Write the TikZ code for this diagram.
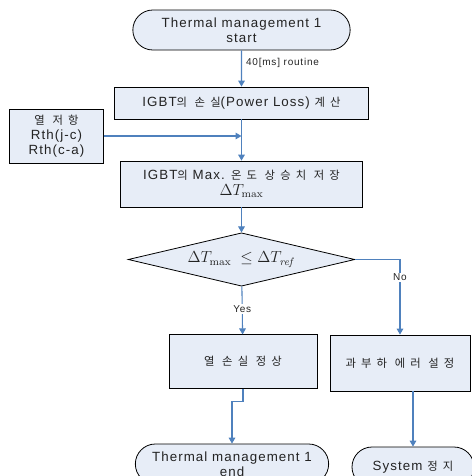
\documentclass[tikz,border=0pt]{standalone}
\usepackage[no-math]{fontspec}
\setmainfont{Liberation Sans}[LetterSpace=8]
\newfontfamily\kr{Noto Sans CJK KR}[Scale=0.85,LetterSpace=45]
\usetikzlibrary{arrows.meta,shapes.geometric,shapes.misc}
\definecolor{BoxFill}{RGB}{231,237,247}
\definecolor{LineBlue}{RGB}{79,129,189}
\definecolor{TextGray}{RGB}{35,35,35}

\begin{document}
\begin{tikzpicture}[x=0.75pt,y=-0.75pt,
    font=\fontsize{10}{11}\selectfont,
    box/.style={draw=black,fill=BoxFill,line width=0.6pt,text=TextGray,align=center,inner sep=0pt},
    term/.style={box,rounded rectangle},
    link/.style={LineBlue,line width=0.8pt,-{Triangle[width=5pt,length=4.5pt]}},
    tag/.style={font=\fontsize{7.5}{9}\selectfont,text=TextGray,fill=white,inner sep=1pt}]
    \useasboundingbox (0,0) rectangle (472,476);
    %%Start
    \node[term,minimum width=163pt,minimum height=30pt] (start) at (241.5,30) {Thermal management 1\\start};
    %%Boxes
    \node[box,minimum width=190pt,minimum height=24pt] (loss) at (241.5,103) {IGBT{\kr 의 손실}(Power Loss) {\kr 계산}};
    \node[box,minimum width=70pt,minimum height=40.5pt] (rth) at (56.5,136) {\kr 열 저항\\\normalfont Rth(j-c)\\\normalfont Rth(c-a)};
    \node[box,minimum width=182pt,minimum height=34.5pt] (maxt) at (241.5,184) {IGBT{\kr 의} Max. {\kr 온도 상승치 저장}\\[1pt]{\large$\Delta T_{\mathrm{max}}$}};
    %%Decision
    \node[box,diamond,aspect=4,minimum width=170pt,minimum height=40pt] (cmp) at (241.5,259.5) {\large$\Delta T_{\mathrm{max}}\;\le \Delta T_{\mathit{ref}}$};
    \node[box,minimum width=111pt,minimum height=40pt] (normal) at (243,361.5) {{\kr 열 손실 정상}};
    \node[box,minimum width=105pt,minimum height=42pt] (overload) at (400,363) {{\kr 과부하 에러 설정}};
    %%End
    \node[term,minimum width=145pt,minimum height=30pt] (finish) at (232,464) {Thermal management 1\\end};
    \node[term,minimum width=91.5pt,minimum height=30pt] (stop) at (413,467) {System {\kr 정지}};
    %%Connectors
    \coordinate (join) at (241.5,136);
    \draw[link] (start) -- node[tag,fill=none,right,pos=0.35,xshift=2pt]{40[ms] routine} (loss);
    \draw[link] (rth.east) -- (join);
    \draw[link] (loss) -- (maxt);
    \draw[link] (maxt) -- (cmp);
    \draw[link] (cmp) -- node[tag,pos=0.47]{Yes} (normal);
    \draw[link] (cmp.east) -| node[tag,pos=0.62]{No} (overload.north);
    \draw[link] (normal.south) -- ++(0,13) -| (finish.north);
    \draw[link] (stop.north |- overload.south) -- (stop.north);
\end{tikzpicture}
\end{document}
